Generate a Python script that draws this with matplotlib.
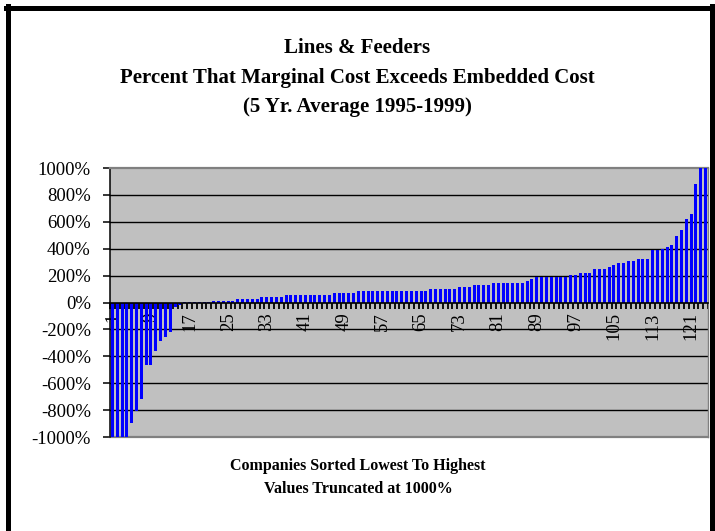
import numpy as np
import matplotlib.pyplot as plt
from matplotlib.lines import Line2D

# percent that marginal cost exceeds embedded cost, sorted, truncated at +/-1000%
pct_values = [
    -1000, -1000, -1000, -1000, -893, -804, -714, -461, -461, -357,
    -283, -253, -223, -32, -15, 2, 5, 6, 6, 7,
    7, 8, 8, 9, 9, 10, 25, 26, 27, 27,
    28, 42, 42, 42, 42, 43, 57, 57, 57, 57,
    57, 57, 57, 57, 58, 58, 72, 72, 72, 72,
    73, 87, 87, 87, 87, 87, 87, 87, 87, 87,
    87, 87, 88, 88, 88, 88, 101, 101, 101, 101,
    102, 102, 117, 117, 117, 131, 131, 131, 132, 146,
    146, 146, 146, 146, 146, 147, 161, 176, 188, 188,
    188, 188, 189, 189, 190, 203, 204, 221, 221, 222,
    250, 250, 251, 265, 280, 295, 296, 310, 311, 325,
    325, 326, 387, 388, 400, 412, 429, 491, 536, 623,
    655, 878, 1000, 1000,
]
companies = np.arange(1, len(pct_values) + 1)
labelled = companies[::8]
y_ticks = np.arange(-1000, 1001, 200)
y_labels = [f'{v}%' for v in y_ticks]

title_lines = ['Lines & Feeders',
               'Percent That Marginal Cost Exceeds Embedded Cost',
               '(5 Yr. Average 1995-1999)']
xlabel_lines = ['Companies Sorted Lowest To Highest',
                'Values Truncated at 1000%']

plt.rcParams['font.family'] = ['Liberation Serif', 'DejaVu Serif']

W, H = 715, 531
fig = plt.figure(figsize=(W / 100, H / 100), dpi=100)
ax = fig.add_axes([110 / W, 1 - 437 / H, 598 / W, 269 / H])
ax.set_facecolor('#c0c0c0')

ax.bar(companies, pct_values, width=0.62, color='#0000ff', zorder=3, clip_on=False)
ax.set_xlim(0.5, len(pct_values) + 0.5)
ax.set_ylim(-1000, 1000)

for v in y_ticks:
    if v not in (-1000, 0, 1000):
        ax.axhline(v, color='black', lw=1.0, zorder=1)
ax.axhline(-1000, color='#808080', lw=1.6, zorder=2, clip_on=False)

ax.spines['left'].set_color('black')
ax.spines['left'].set_linewidth(1.1)
ax.spines['top'].set_color('#808080')
ax.spines['top'].set_linewidth(1.6)
ax.spines['right'].set_color('#808080')
ax.spines['right'].set_linewidth(1.0)
ax.spines['bottom'].set_position(('data', 0))
ax.spines['bottom'].set_color('black')
ax.spines['bottom'].set_linewidth(1.2)
ax.spines['bottom'].set_zorder(4)

ax.set_yticks(y_ticks, y_labels)
ax.tick_params(axis='y', length=4.8, width=1.1, pad=9, labelsize=13.5)

ax.set_xticks(np.arange(0.5, len(pct_values) + 1, 1), [''] * (len(pct_values) + 1))
ax.tick_params(axis='x', which='major', length=4.3, width=1.3, direction='out')
ax.set_xticks(labelled, [str(c) for c in labelled], minor=True)
ax.tick_params(axis='x', which='minor', length=0, pad=7, labelsize=13.5)
for t in ax.get_xticklabels(minor=True):
    t.set_rotation(90)
    t.set_va('top')
    t.set_ha('center')

for line, y in zip(title_lines, [48, 78, 107]):
    fig.text(0.5, 1 - y / H, line, ha='center', va='center',
             fontsize=15, fontweight='bold')
for line, y in zip(xlabel_lines, [466, 489]):
    fig.text(358 / W, 1 - y / H, line, ha='center', va='center',
             fontsize=11.5, fontweight='bold')

# black frame around the chart
bw = 3.6
fig.add_artist(Line2D([8 / W, 8 / W], [0, 1 - 6 / H], color='black', lw=bw))
fig.add_artist(Line2D([6 / W, 1 - 3 / W], [1 - 8 / H, 1 - 8 / H], color='black', lw=bw))
fig.add_artist(Line2D([1 - 3 / W, 1 - 3 / W], [0, 1 - 6 / H], color='black', lw=bw))

fig.savefig('out.png', dpi=100)
